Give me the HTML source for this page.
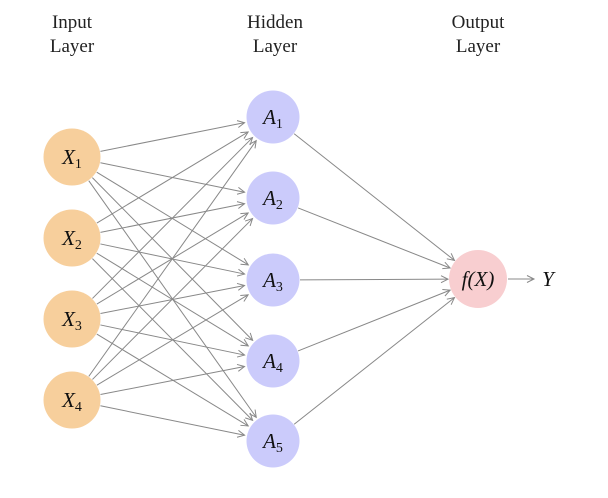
<!DOCTYPE html>
<html><head><meta charset="utf-8"><style>
html,body{margin:0;padding:0;background:#fff;}
svg{display:block;}
.t{font-family:"Liberation Serif",serif;font-size:19px;fill:#222;text-anchor:middle;}
.m{font-family:"Liberation Serif",serif;font-style:italic;font-size:21px;fill:#111;text-anchor:middle;}
.s{font-size:14px;font-style:normal;}
</style></head><body>
<svg id="s" width="608" height="498" viewBox="0 0 608 498" xmlns="http://www.w3.org/2000/svg">
<defs><marker id="a" markerWidth="10" markerHeight="10" refX="8" refY="5" orient="auto" markerUnits="userSpaceOnUse"><path d="M1,1.5 L8,5 L1,8.5" fill="none" stroke="#888" stroke-width="1"/></marker></defs>
<text class="t" x="72" y="28">Input</text><text class="t" x="72" y="52">Layer</text>
<text class="t" x="275" y="28">Hidden</text><text class="t" x="275" y="52">Layer</text>
<text class="t" x="478" y="28">Output</text><text class="t" x="478" y="52">Layer</text>
<g id="e" stroke="#888" stroke-width="1" fill="none"></g>
<g id="n"></g>
<text class="m" x="548" y="286">Y</text>
</svg>
<script>
var X=[[72,157],[72,238],[72,319],[72,400]],A=[[273,117],[273,198],[273,280],[273,361],[273,441]],F=[478,279];
var e=document.getElementById('e'),n=document.getElementById('n'),ns='http://www.w3.org/2000/svg';
function ln(p,r1,q,r2){var dx=q[0]-p[0],dy=q[1]-p[1],d=Math.hypot(dx,dy),ux=dx/d,uy=dy/d;
var l=document.createElementNS(ns,'line');l.setAttribute('x1',p[0]+ux*r1);l.setAttribute('y1',p[1]+uy*r1);
l.setAttribute('x2',q[0]-ux*r2);l.setAttribute('y2',q[1]-uy*r2);l.setAttribute('marker-end','url(#a)');e.appendChild(l);}
X.forEach(function(p){A.forEach(function(q){ln(p,29,q,29);});});
A.forEach(function(q){ln(q,27,F,30);});
ln([F[0],F[1]],30,[534,F[1]],0);
function c(p,r,col,lab,sub){var k=document.createElementNS(ns,'circle');k.setAttribute('cx',p[0]);k.setAttribute('cy',p[1]);k.setAttribute('r',r);k.setAttribute('fill',col);n.appendChild(k);
var t=document.createElementNS(ns,'text');t.setAttribute('class','m');t.setAttribute('x',p[0]);t.setAttribute('y',p[1]+7);
t.innerHTML=sub?lab+'<tspan class="s" dy="4">'+sub+'</tspan>':lab;n.appendChild(t);}
X.forEach(function(p,i){c(p,28.5,'#f7cf9c','X',i+1);});
A.forEach(function(p,i){c(p,26.5,'#cbcbfb','A',i+1);});
c(F,29,'#f8ced0','f(X)','');
</script>
</body></html>
